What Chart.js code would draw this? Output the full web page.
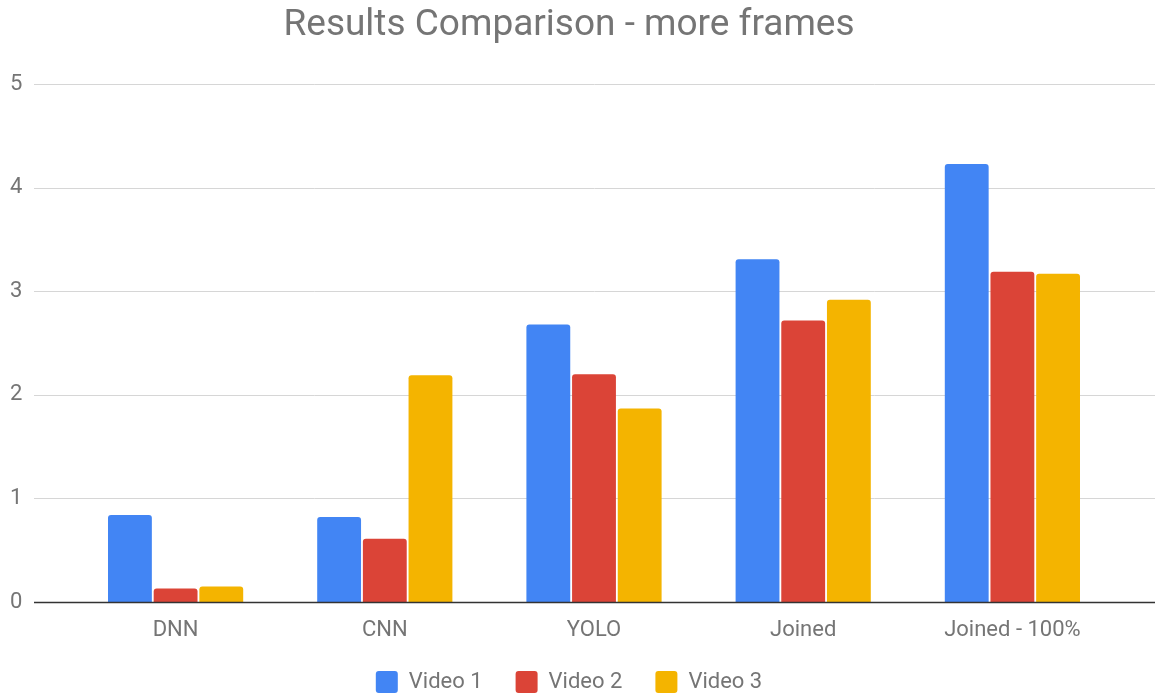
<!DOCTYPE html>
<html>
<head>
<meta charset="utf-8">
<title>Results Comparison - more frames</title>
<script src="https://cdn.jsdelivr.net/npm/chart.js@4/dist/chart.umd.min.js"></script>
<style>
  html, body { margin: 0; padding: 0; background: #fff; }
  #wrap { width: 1157px; height: 693px; }
</style>
</head>
<body>
<div id="wrap"><canvas id="chart" width="1157" height="693"></canvas></div>
<script>
// categories and series
const methods = ['DNN', 'CNN', 'YOLO', 'Joined', 'Joined - 100%'];
const video1 = [0.84, 0.82, 2.68, 3.31, 4.23];
const video2 = [0.13, 0.61, 2.20, 2.72, 3.19];
const video3 = [0.15, 2.19, 1.87, 2.92, 3.17];
const yTicks = [0, 1, 2, 3, 4, 5];

const textGray = '#757575';

// grid lines run wider than the category band, so draw them by hand
const gridLines = {
    id: 'gridLines',
    beforeDatasetsDraw(chart) {
        const ctx = chart.ctx;
        const y = chart.scales.y;
        ctx.save();
        ctx.strokeStyle = '#d6d6d6';
        ctx.lineWidth = 1;
        yTicks.forEach(v => {
            if (v === 0) return;
            const py = Math.round(y.getPixelForValue(v)) + 0.5;
            ctx.beginPath();
            ctx.moveTo(34, py);
            ctx.lineTo(1155, py);
            ctx.stroke();
        });
        ctx.restore();
    },
    afterDatasetsDraw(chart) {
        const ctx = chart.ctx;
        const py = Math.round(chart.scales.y.getPixelForValue(0)) + 0.5;
        ctx.save();
        ctx.strokeStyle = '#333';
        ctx.lineWidth = 1.5;
        ctx.beginPath();
        ctx.moveTo(34, py);
        ctx.lineTo(1155, py);
        ctx.stroke();
        ctx.restore();
    }
};

function series(label, data, color) {
    return {
        label: label,
        data: data,
        backgroundColor: color,
        borderColor: color,
        borderWidth: 0,
        borderRadius: 3,
        categoryPercentage: 0.655,
        barPercentage: 0.96
    };
}

new Chart(document.getElementById('chart'), {
    type: 'bar',
    data: {
        labels: methods,
        datasets: [
            series('Video 1', video1, '#4285f4'),
            series('Video 2', video2, '#db4437'),
            series('Video 3', video3, '#f4b400')
        ]
    },
    options: {
        responsive: false,
        animation: false,
        layout: { padding: { left: 21, right: 40, top: 0, bottom: -10 } },
        plugins: {
            title: {
                display: true,
                text: 'Results Comparison - more frames',
                color: textGray,
                font: { family: 'Roboto', size: 37, weight: 'normal' },
                padding: { top: 4, bottom: 36 }
            },
            legend: {
                position: 'bottom',
                labels: {
                    color: textGray,
                    font: { family: 'Roboto', size: 22 },
                    boxWidth: 22,
                    boxHeight: 22,
                    useBorderRadius: true,
                    borderRadius: 3,
                    padding: 33
                }
            },
            tooltip: { enabled: false }
        },
        scales: {
            x: {
                grid: { display: false, drawTicks: false },
                border: { display: false },
                ticks: {
                    color: textGray,
                    font: { family: 'Roboto', size: 22 },
                    padding: 15
                },
                afterFit(scale) { scale.height = 36; }
            },
            y: {
                min: 0,
                max: 5,
                grid: { display: false, drawTicks: false },
                border: { display: false },
                afterBuildTicks(scale) { scale.ticks = yTicks.map(v => ({ value: v })); },
                ticks: {
                    color: textGray,
                    font: { family: 'Roboto', size: 22 },
                    mirror: true,
                    padding: -61
                },
                afterFit(scale) { scale.width = 50; }
            }
        }
    },
    plugins: [gridLines]
});
</script>
</body>
</html>
